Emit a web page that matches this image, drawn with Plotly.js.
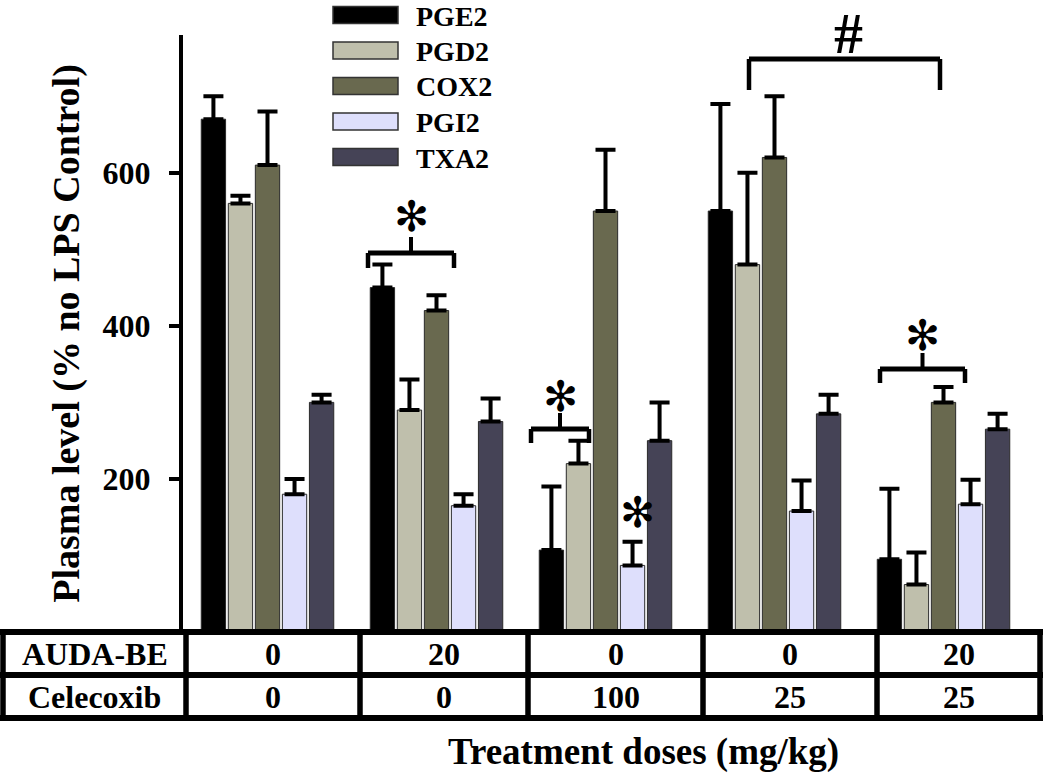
<!DOCTYPE html>
<html><head><meta charset="utf-8">
<script src="https://cdn.plot.ly/plotly-3.0.1.min.js"></script>
<style>html,body{margin:0;padding:0;background:#fff;} #chart{width:1050px;height:783px;}</style>
</head><body><div id="chart"></div>
<script>
// ---- data ----
const groupKeys = ['A0-C0', 'A20-C0', 'A0-C100', 'A0-C25', 'A20-C25'];
const rowLabels = ['AUDA-BE', 'Celecoxib'];
const audaBE = ['0', '20', '0', '0', '20'];
const celecoxib = ['0', '0', '100', '25', '25'];
const seriesNames = ['PGE2', 'PGD2', 'COX2', 'PGI2', 'TXA2'];
const pge2 = [670, 450, 107, 550, 95];
const pge2Err = [30, 30, 83, 140, 92];
const pgd2 = [560, 290, 220, 480, 62];
const pgd2Err = [10, 40, 30, 120, 42];
const cox2 = [610, 420, 550, 620, 300];
const cox2Err = [70, 20, 80, 80, 20];
const pgi2 = [180, 165, 87, 158, 167];
const pgi2Err = [20, 15, 31, 40, 32];
const txa2 = [300, 275, 250, 285, 265];
const txa2Err = [10, 30, 50, 25, 20];
const yTickVals = [200, 400, 600];
const yTitle = 'Plasma level (% no LPS Control)';
const xTitle = 'Treatment doses (mg/kg)';
const starMark = '\u273B';
const hashMark = '#';

// ---- styles ----
const colors = ['#000000', '#bfbfac', '#69694f', '#dedffc', '#454356'];
const W = 1050, H = 783, L = 183, R = 22, T = 35, B = 151;
const PW = W - L - R, PH = H - T - B;
const px = x => (x - L) / PW;
const py = y => (H - B - y) / PH;
const serif = 'Liberation Serif, Times New Roman, serif';

const values = [pge2, pgd2, cox2, pgi2, txa2];
const errs = [pge2Err, pgd2Err, cox2Err, pgi2Err, txa2Err];

const traces = seriesNames.map((name, i) => ({
  type: 'bar', name: name, x: groupKeys, y: values[i],
  marker: {color: colors[i], line: {color: '#2a2a2a', width: 1}},
  error_y: {type: 'data', symmetric: false, array: errs[i], arrayminus: errs[i].map(() => 0),
            color: '#000', thickness: 4, width: 10},
  showlegend: false, hoverinfo: 'y'
}));

const shapes = [];
const annotations = [];
function hline(x0, x1, y, w) {
  shapes.push({type: 'line', xref: 'paper', yref: 'paper', x0: px(x0), x1: px(x1), y0: py(y), y1: py(y),
               line: {color: '#000', width: w}});
}
function vline(x, y0, y1, w) {
  shapes.push({type: 'line', xref: 'paper', yref: 'paper', x0: px(x), x1: px(x), y0: py(y0), y1: py(y1),
               line: {color: '#000', width: w}});
}
function text(t, x, y, size, opts) {
  annotations.push(Object.assign({text: t, xref: 'paper', yref: 'paper', x: px(x), y: py(y),
    xanchor: 'center', yanchor: 'middle', showarrow: false, borderpad: 0,
    font: {family: serif, size: size, color: '#000', weight: 'bold'}}, opts || {}));
}

// legend (custom boxes)
seriesNames.forEach((n, i) => {
  const cy = 15 + 35.5 * i;
  shapes.push({type: 'rect', xref: 'paper', yref: 'paper', x0: px(333), x1: px(398), y0: py(cy - 8.5), y1: py(cy + 8.5),
               fillcolor: colors[i], line: {color: '#333', width: 1.5}});
  text(n, 415, cy + 1, 28, {xanchor: 'left'});
});

// table
const colEdges = [3, 186, 360, 528, 703, 877, 1040];
const rowY = [632, 675, 718];
rowY.forEach(y => hline(0, 1043, y, 6));
colEdges.forEach(x => vline(x, 632, 718, 5.5));
const rows = [audaBE, celecoxib];
rows.forEach((r, ri) => {
  const cy = (rowY[ri] + rowY[ri + 1]) / 2;
  text(rowLabels[ri], (colEdges[0] + colEdges[1]) / 2, cy, 32);
  r.forEach((v, ci) => text(v, (colEdges[ci + 1] + colEdges[ci + 2]) / 2, cy, 32));
});
text(xTitle, 643, 752, 37);

// significance brackets
function bracket(x0, x1, y, legY, tipY) {
  hline(x0, x1, y, 5);
  vline(x0, y, legY, 4.5);
  vline(x1, y, legY, 4.5);
  if (tipY !== null) vline((x0 + x1) / 2, y, tipY, 4);
}
bracket(368, 454, 253, 268, 237);
bracket(531, 589, 429, 443, 413);
bracket(880, 965, 369, 383, 353);
bracket(749, 940, 59, 90, null);
const starFont = {family: 'DejaVu Sans', size: 42, color: '#000'};
text(starMark, 411, 217, 42, {font: starFont});
text(starMark, 560, 396, 42, {font: starFont});
text(starMark, 637, 512, 42, {font: starFont});
text(starMark, 922, 335, 42, {font: starFont});
text(hashMark, 848, 0, 58, {yanchor: 'top', font: {family: serif, size: 58, color: '#000', weight: 'bold'}});

const layout = {
  width: W, height: H,
  margin: {l: L, r: R, t: T, b: B},
  paper_bgcolor: '#fff', plot_bgcolor: '#fff',
  barmode: 'group', bargap: 0.2, bargroupgap: 0.1,
  showlegend: false,
  xaxis: {type: 'category', range: [-0.5, 4.5], showticklabels: false, ticks: '', showline: false,
          showgrid: false, zeroline: false, fixedrange: true},
  yaxis: {range: [0, 780], tickvals: yTickVals, ticktext: yTickVals.map(String),
          ticks: 'outside', ticklen: 10, tickwidth: 4, tickcolor: '#000',
          showline: true, linewidth: 4, linecolor: '#000', showgrid: false, zeroline: false,
          ticklabelstandoff: 12,
          tickfont: {family: serif, size: 32, color: '#000', weight: 'bold'},
          title: {text: yTitle, font: {family: serif, size: 38, color: '#000', weight: 'bold'}, standoff: 12}},
  shapes: shapes, annotations: annotations
};
Plotly.newPlot('chart', traces, layout, {displayModeBar: false, staticPlot: true});
</script></body></html>
